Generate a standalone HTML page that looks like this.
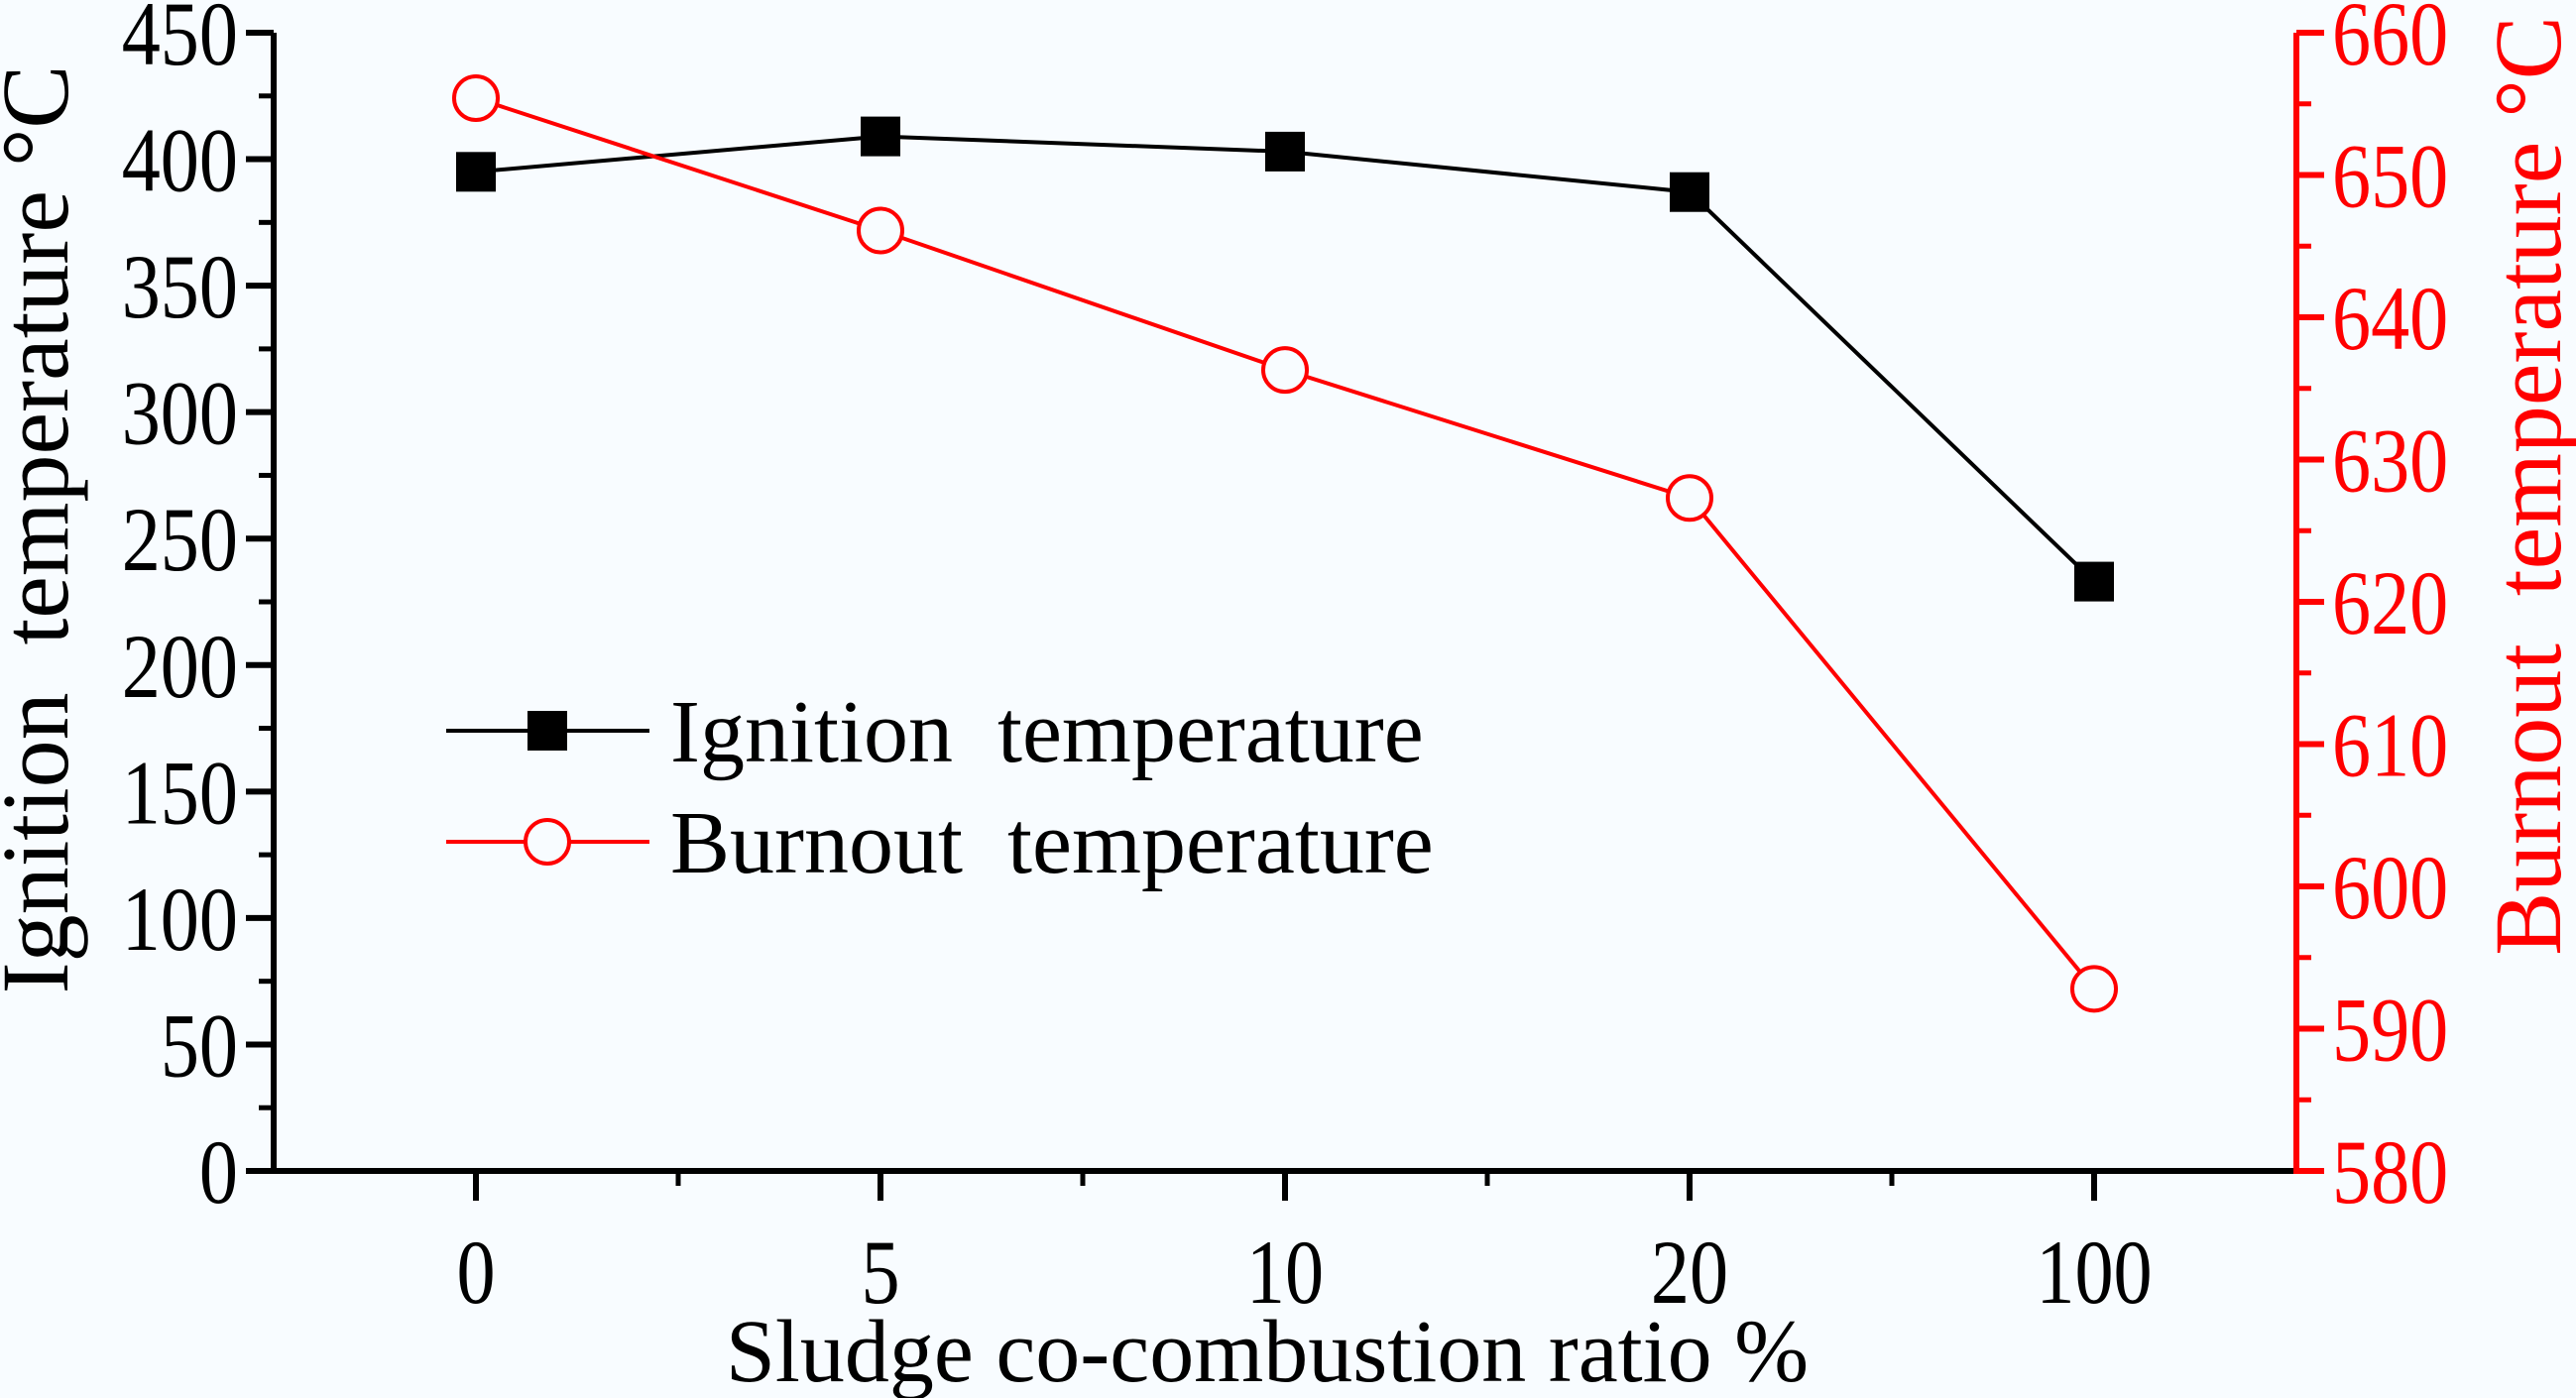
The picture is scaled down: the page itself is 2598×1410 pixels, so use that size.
<!DOCTYPE html>
<html><head><meta charset="utf-8"><style>
html,body{margin:0;padding:0;background:#f8fcff;}
svg{display:block;font-family:"Liberation Serif",serif;}
text{white-space:pre;}
</style></head><body>
<svg id="chart" width="2598" height="1410" viewBox="0 0 2598 1410"></svg>
<script>
const categories=["0","5","10","20","100"];
const ignition=[395,409,403,387,233];
const burnout=[655.4,646.1,636.3,627.3,592.8];
const leftTicks=[0,50,100,150,200,250,300,350,400,450];
const rightTicks=[580,590,600,610,620,630,640,650,660];

const L=276,R=2316,T=33,B=1181;
const NS="http://www.w3.org/2000/svg";
const svg=document.getElementById('chart');
function xs(i){return L+(i+0.5)*(R-L)/categories.length;}
function yl(v){return B-(v-0)/(450-0)*(B-T);}
function yr(v){return B-(v-580)/(660-580)*(B-T);}
function mk(tag,attrs,parent){const e=document.createElementNS(NS,tag);for(const k in attrs)e.setAttribute(k,attrs[k]);(parent||svg).appendChild(e);return e;}
const SX=0.85;
function lbl(x,y,anchor,fill,parent){return mk('text',{x:0,y:0,'text-anchor':anchor,'font-size':92,fill:fill,transform:`translate(${x},${y}) scale(${SX},1)`},parent);}

const ax=mk('g',{});


mk('line',{x1:L,y1:T,x2:L,y2:B+3,stroke:'#000','stroke-width':6},ax);
mk('line',{x1:L-3,y1:B,x2:R,y2:B,stroke:'#000','stroke-width':6},ax);
mk('line',{x1:R,y1:T,x2:R,y2:B+3,stroke:'#f00','stroke-width':6},ax);

leftTicks.forEach((v,i)=>{
  const y=yl(v);
  mk('line',{x1:L-28,y1:y,x2:L,y2:y,stroke:'#000','stroke-width':6},ax);
  if(i<leftTicks.length-1){const ym=yl(v+25);mk('line',{x1:L-15,y1:ym,x2:L,y2:ym,stroke:'#000','stroke-width':5},ax);}
  const t=lbl(L-36,y+32,'end','#000',ax);
  t.textContent=v;
  
  
});
rightTicks.forEach((v,i)=>{
  const y=yr(v);
  mk('line',{x1:R,y1:y,x2:R+28,y2:y,stroke:'#f00','stroke-width':6},ax);
  if(i<rightTicks.length-1){const ym=yr(v+5);mk('line',{x1:R,y1:ym,x2:R+15,y2:ym,stroke:'#f00','stroke-width':5},ax);}
  const t=lbl(R+36,y+32,'start','#f00',ax);
  t.textContent=v;
  
  
});
categories.forEach((c,i)=>{
  const x=xs(i);
  mk('line',{x1:x,y1:B,x2:x,y2:B+30,stroke:'#000','stroke-width':6},ax);
  const t=lbl(x,B+133,'middle','#000',ax);
  t.textContent=c;
  
  
});
for(let i=-1;i<categories.length;i++){
  const x=xs(i+0.5);
  if(x>L&&x<R) mk('line',{x1:x,y1:B,x2:x,y2:B+15,stroke:'#000','stroke-width':5},ax);
}
let t=mk('text',{x:(L+R)/2-18,y:1393,'text-anchor':'middle','font-size':90,fill:'#000'});
t.textContent='Sludge co-combustion ratio %';


t=mk('text',{x:0,y:0,'text-anchor':'middle','font-size':96,fill:'#000',transform:`translate(68,534) rotate(-90)`});
t.textContent='Ignition  temperature °C';


t=mk('text',{x:0,y:0,'text-anchor':'middle','font-size':96,fill:'#f00',transform:`translate(2582,490) rotate(-90)`});
t.textContent='Burnout  temperature °C';



const ig=mk('polyline',{points:ignition.map((v,i)=>xs(i)+','+yl(v)).join(' '),fill:'none',stroke:'#000','stroke-width':4});


ignition.forEach((v,i)=>{
  const r=mk('rect',{x:xs(i)-20,y:yl(v)-20,width:40,height:40,fill:'#000'});
  
  
});
const bl=mk('polyline',{points:burnout.map((v,i)=>xs(i)+','+yr(v)).join(' '),fill:'none',stroke:'#f00','stroke-width':4});


burnout.forEach((v,i)=>{
  const c=mk('circle',{cx:xs(i),cy:yr(v),r:22,fill:'#f8fcff',stroke:'#f00','stroke-width':4});
  
  
});

const lg=mk('g',{});


mk('line',{x1:450,y1:737,x2:655,y2:737,stroke:'#000','stroke-width':4},lg);
mk('rect',{x:532,y:717,width:40,height:40,fill:'#000'},lg);
t=mk('text',{x:676,y:768,'font-size':90,fill:'#000'},lg);
t.textContent='Ignition  temperature';


mk('line',{x1:450,y1:849,x2:655,y2:849,stroke:'#f00','stroke-width':4},lg);
mk('circle',{cx:552,cy:849,r:22,fill:'#f8fcff',stroke:'#f00','stroke-width':4},lg);
t=mk('text',{x:676,y:880,'font-size':90,fill:'#000'},lg);
t.textContent='Burnout  temperature';


</script>
</body></html>
